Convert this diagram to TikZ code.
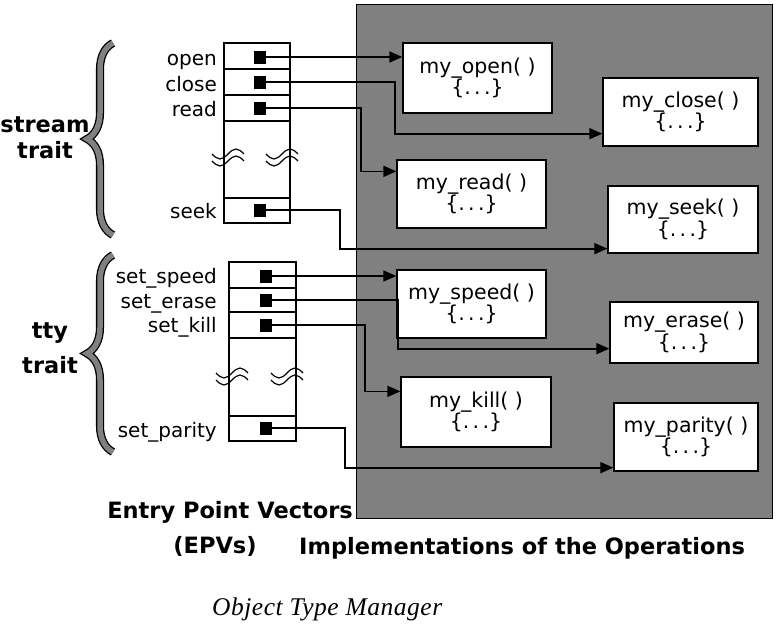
\documentclass[tikz,border=0pt]{standalone}
\usepackage{fontspec}
\usepackage{tikz}
\usetikzlibrary{arrows.meta,decorations.pathreplacing}
\newfontfamily\labfont{DejaVu Sans}
\newfontfamily\capfont[LetterSpace=2]{Liberation Serif}

\begin{document}
\begin{tikzpicture}[x=1pt, y=-1pt,
  fn/.style = {draw, fill=white, line width=1.3pt, align=center, inner sep=0pt, font=\labfont\fontsize{20.5}{20}\selectfont},
  sq/.style = {fill=black, minimum width=12pt, minimum height=13pt, inner sep=0pt},
  lbl/.style = {anchor=base east, inner sep=0pt, font=\labfont\fontsize{20}{20}\selectfont},
  bold/.style = {inner sep=0pt, font=\labfont\bfseries\fontsize{22.5}{24}\selectfont},
  wave/.style = {line width=1.2pt},
  ptr/.style = {line width=1.7pt, -{Triangle[length=13pt,width=11pt]}},
  brc/.style = {decorate, decoration={brace, amplitude=26pt}, line width=1.3pt, double=black!50, double distance=5.5pt}]
\useasboundingbox (0,0) rectangle (776,632);
\draw [line width=1pt, fill=black!50] (356,4) rectangle (772,518);
% entry point vectors
\draw [line width=1.2pt] (224,43) rectangle (290,223); \draw [line width=1.2pt] (224,69) -- (290,69) (224,95) -- (290,95) (224,121) -- (290,121) (224,198) -- (290,198);
\draw [line width=1.2pt] (229,262) rectangle (296,441); \draw [line width=1.2pt] (229,288) -- (296,288) (229,312) -- (296,312) (229,338) -- (296,338) (229,416) -- (296,416);
\draw [wave] (212,154) sin ++(8,5) cos ++(8,-5) sin ++(8,-5) cos ++(8,5); \draw [wave] (212,161) sin ++(8,5) cos ++(8,-5) sin ++(8,-5) cos ++(8,5);
\draw [wave] (266,154) sin ++(8,5) cos ++(8,-5) sin ++(8,-5) cos ++(8,5); \draw [wave] (266,161) sin ++(8,5) cos ++(8,-5) sin ++(8,-5) cos ++(8,5);
\draw [wave] (216,373) sin ++(8,5) cos ++(8,-5) sin ++(8,-5) cos ++(8,5); \draw [wave] (216,380) sin ++(8,5) cos ++(8,-5) sin ++(8,-5) cos ++(8,5);
\draw [wave] (271,373) sin ++(8,5) cos ++(8,-5) sin ++(8,-5) cos ++(8,5); \draw [wave] (271,380) sin ++(8,5) cos ++(8,-5) sin ++(8,-5) cos ++(8,5);
\node[sq](0) at (260,57) {}; \node[sq](1) at (260,82) {}; \node[sq](2) at (260,108) {}; \node[sq](3) at (260,210) {};
\node[sq](4) at (266,276) {}; \node[sq](5) at (266,300) {}; \node[sq](6) at (266,325) {}; \node[sq](7) at (266,428) {};
\node[lbl](16) at (217,65) {open}; \node[lbl](17) at (217,91) {close}; \node[lbl](18) at (217,116) {read}; \node[lbl](19) at (217,218) {seek};
\node[lbl](20) at (217,283) {set\_speed}; \node[lbl](21) at (217,308) {set\_erase}; \node[lbl](22) at (217,332) {set\_kill}; \node[lbl](23) at (217,437) {set\_parity};
% implementations
\node[fn, minimum width=149pt, minimum height=70pt](8) at (477.5,78) {my\_open( )\\\{.\,.\,.\}};
\node[fn, minimum width=155pt, minimum height=68pt](9) at (680.5,112) {my\_close( )\\\{.\,.\,.\}};
\node[fn, minimum width=149pt, minimum height=68pt](10) at (471.5,194) {my\_read( )\\\{.\,.\,.\}};
\node[fn, minimum width=150pt, minimum height=67pt](11) at (683,219.5) {my\_seek( )\\\{.\,.\,.\}};
\node[fn, minimum width=149pt, minimum height=68pt](12) at (471.5,304) {my\_speed( )\\\{.\,.\,.\}};
\node[fn, minimum width=148pt, minimum height=61pt](13) at (684,332.5) {my\_erase( )\\\{.\,.\,.\}};
\node[fn, minimum width=150pt, minimum height=70pt](14) at (476,412) {my\_kill( )\\\{.\,.\,.\}};
\node[fn, minimum width=144pt, minimum height=68pt](15) at (686,437) {my\_parity( )\\\{.\,.\,.\}};
\draw[ptr] (0) -- (8.west |- 0); \draw[ptr] (1) -- ++(135,0) |- ([yshift=13pt]9.south west);
\draw[ptr] (2) -- ++(101,0) |- ([yshift=-12pt]10.north west); \draw[ptr] (3) -- ++(80,0) |- ([yshift=5pt]11.south west);
\draw[ptr] (4) -- (12.west |- 4); \draw[ptr] (5) -- ++(132,0) |- ([yshift=15pt]13.south west);
\draw[ptr] (6) -- ++(99,0) |- ([yshift=-15pt]14.north west); \draw[ptr] (7) -- ++(79,0) |- ([yshift=4pt]15.south west);
% traits
\draw[brc] (113,235) -- (113,43); \draw[brc] (113,452) -- (113,255);
\node[bold, anchor=base](24) at (45,132) {stream}; \node[bold, anchor=base](25) at (45,158) {trait};
\node[bold, anchor=base](26) at (50,338) {tty}; \node[bold, anchor=base](27) at (50,373) {trait};
\node[bold, anchor=base east](28) at (353,518) {Entry Point Vectors}; \node[bold, anchor=base](29) at (215,553) {(EPVs)};
\node[bold, anchor=base west](30) at (299,554) {Implementations of the Operations};
\node[anchor=base west, inner sep=0pt, font=\capfont\itshape\fontsize{25.5}{26}\selectfont](31) at (212,615) {Object Type Manager};
\end{tikzpicture}
\end{document}
